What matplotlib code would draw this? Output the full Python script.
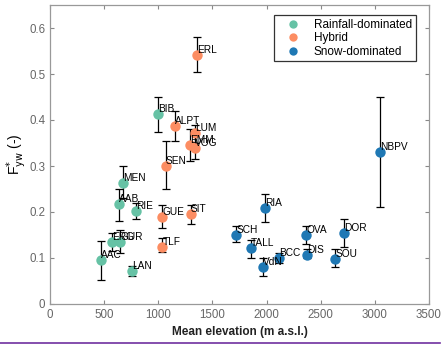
import matplotlib
matplotlib.use("Agg")
import matplotlib.pyplot as plt
from matplotlib.lines import Line2D

plt.rcParams["font.family"] = ["Liberation Sans", "DejaVu Sans"]

# catchment codes, mean elevation (m a.s.l.), F*yw and its uncertainty range
rain_names = ["BIB", "MEN", "AAB", "RIE", "ERG", "GUR", "AAC", "LAN"]
rain_elev = [1000, 674, 634, 792, 576, 650, 471, 758]
rain_fyw = [0.412, 0.264, 0.217, 0.202, 0.135, 0.135, 0.096, 0.071]
rain_lo = [0.375, 0.230, 0.180, 0.185, 0.115, 0.110, 0.052, 0.060]
rain_hi = [0.450, 0.300, 0.250, 0.220, 0.155, 0.160, 0.138, 0.083]

hyb_names = ["ERL", "ALPT", "LUM", "EMM", "VOG", "SEN", "GUE", "SIT", "TLF"]
hyb_elev = [1358, 1152, 1337, 1291, 1337, 1069, 1038, 1300, 1038]
hyb_fyw = [0.541, 0.388, 0.371, 0.345, 0.340, 0.301, 0.189, 0.195, 0.125]
hyb_lo = [0.504, 0.355, 0.350, 0.310, 0.315, 0.250, 0.165, 0.175, 0.112]
hyb_hi = [0.580, 0.420, 0.390, 0.380, 0.375, 0.355, 0.215, 0.215, 0.143]

snow_names = ["NBPV", "RIA", "SCH", "TALL", "VdN", "BCC", "OVA", "DIS", "SOU", "DOR"]
snow_elev = [3052, 1990, 1719, 1855, 1965, 2119, 2365, 2371, 2636, 2716]
snow_fyw = [0.330, 0.209, 0.151, 0.121, 0.080, 0.100, 0.149, 0.107, 0.097, 0.155]
snow_lo = [0.210, 0.178, 0.135, 0.100, 0.060, 0.090, 0.130, 0.100, 0.080, 0.125]
snow_hi = [0.450, 0.240, 0.170, 0.140, 0.100, 0.110, 0.170, 0.120, 0.120, 0.185]

groups = [
    ("Rainfall-dominated", "#66c2a5", rain_names, rain_elev, rain_fyw, rain_lo, rain_hi),
    ("Hybrid", "#fc8d62", hyb_names, hyb_elev, hyb_fyw, hyb_lo, hyb_hi),
    ("Snow-dominated", "#1f78b4", snow_names, snow_elev, snow_fyw, snow_lo, snow_hi),
]

fig = plt.figure(figsize=(4.43, 3.47), dpi=100)
ax = fig.add_axes([50 / 443, 1 - 304 / 347, 379 / 443, 299 / 347])

handles = []
for label, color, names, x, y, lo, hi in groups:
    yerr = [[v - l for v, l in zip(y, lo)], [h - v for v, h in zip(y, hi)]]
    ax.errorbar(x, y, yerr=yerr, fmt="none", ecolor="black", elinewidth=0.9,
                capsize=3, capthick=0.9, zorder=2)
    ax.plot(x, y, "o", color=color, markersize=7.5, markeredgewidth=0, zorder=3)
    for n, xi, yi in zip(names, x, y):
        ax.text(xi, yi, n, fontsize=7.3, ha="left", va="bottom", zorder=4)
    handles.append(Line2D([], [], marker="o", ls="none", color=color,
                          markersize=6, markeredgewidth=0, label=label))

ax.set_xlim(0, 3500)
ax.set_ylim(0, 0.65)
ax.set_xticks(range(0, 3501, 500))
ax.set_yticks([0, 0.1, 0.2, 0.3, 0.4, 0.5, 0.6])
ax.set_yticklabels(["0", "0.1", "0.2", "0.3", "0.4", "0.5", "0.6"])
ax.tick_params(direction="in", top=True, right=True, length=3, width=0.8,
               color="#888888", labelcolor="#666666", labelsize=8.3)
for s in ax.spines.values():
    s.set_color("#999999")
    s.set_linewidth(0.9)

ax.set_xlabel("Mean elevation (m a.s.l.)", fontsize=8.5, fontweight="bold",
              color="#222222", labelpad=4)
ax.set_ylabel(r"F$^{*}_{\mathrm{yw}}$ (-)", fontsize=10, labelpad=0)

leg = ax.legend(handles=handles, loc="upper right", fontsize=8.5,
                frameon=True, fancybox=False, edgecolor="black",
                bbox_to_anchor=(0.98, 0.985), handletextpad=0.5,
                borderpad=0.3, labelspacing=0.12, handlelength=2.6)
leg.get_frame().set_linewidth(0.9)

fig.add_artist(Line2D([0, 440 / 443], [1 - 343 / 347] * 2, color="#7030a0",
                      lw=1.2, transform=fig.transFigure))

fig.savefig("out.png", dpi=100)
